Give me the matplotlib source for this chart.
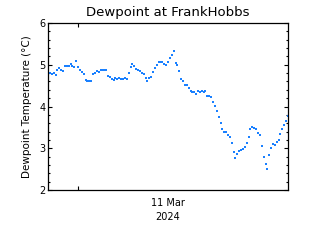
import datetime as dt
import matplotlib
matplotlib.use("Agg")
import matplotlib.pyplot as plt
import matplotlib.dates as mdates
from matplotlib.ticker import AutoMinorLocator, FixedLocator, NullFormatter

# dewpoint readings, every 15 min from 10 Mar 2024 20:00
start_time = dt.datetime(2024, 3, 10, 20, 0)
step_minutes = 15
dewpoint = [
    4.81, 4.81, 4.78, 4.81, 4.76, 4.88, 4.92, 4.88, 4.84, 4.98,
    4.98, 4.98, 5.02, 4.98, 4.95, 5.08, 4.95, 4.88, 4.83, 4.79,
    4.64, 4.62, 4.62, 4.62, 4.78, 4.80, 4.86, 4.83, 4.88, 4.88,
    4.88, 4.88, 4.73, 4.71, 4.67, 4.64, 4.69, 4.67, 4.69, 4.67,
    4.67, 4.69, 4.67, 4.81, 4.95, 5.02, 4.98, 4.90, 4.88, 4.85,
    4.80, 4.78, 4.69, 4.60, 4.69, 4.71, 4.83, 4.93, 5.00, 5.07,
    5.07, 5.07, 5.02, 5.00, 5.07, 5.17, 5.24, 5.33, 5.05, 5.00,
    4.86, 4.67, 4.60, 4.52, 4.52, 4.45, 4.36, 4.34, 4.34, 4.31,
    4.36, 4.34, 4.38, 4.34, 4.36, 4.24, 4.24, 4.22, 4.10, 4.02,
    3.90, 3.76, 3.60, 3.45, 3.40, 3.38, 3.31, 3.26, 3.12, 2.90,
    2.76, 2.86, 2.93, 2.95, 2.98, 3.02, 3.12, 3.26, 3.45, 3.50,
    3.48, 3.45, 3.36, 3.31, 3.05, 2.80, 2.62, 2.50, 2.85, 3.00,
    3.10, 3.07, 3.14, 3.20, 3.33, 3.45, 3.55, 3.65, 3.78,
]
times = [start_time + dt.timedelta(minutes=step_minutes * i) for i in range(len(dewpoint))]

x_start = dt.datetime(2024, 3, 10, 20, 0)
x_end = dt.datetime(2024, 3, 12, 4, 0)
day_tick = dt.datetime(2024, 3, 11, 0, 0)
day_label_pos = dt.datetime(2024, 3, 11, 12, 0)
day_label = "11 Mar\n2024"

fig = plt.figure(figsize=(3.2, 2.4), dpi=100)
ax = fig.add_axes([0.15, 0.2083, 0.75, 0.6958])

ax.plot(times, dewpoint, linestyle="none", marker="s", markersize=2.1,
        markeredgewidth=0, color="#1A80FF")

ax.set_xlim(x_start, x_end)
ax.set_ylim(2, 6)

ax.xaxis.set_major_locator(FixedLocator([mdates.date2num(day_tick)]))
ax.xaxis.set_major_formatter(NullFormatter())
ax.xaxis.set_minor_locator(FixedLocator([mdates.date2num(day_label_pos)]))
ax.xaxis.set_minor_formatter(lambda v, p: day_label)
ax.set_yticks([2, 3, 4, 5, 6])
ax.yaxis.set_minor_locator(AutoMinorLocator(5))

ax.tick_params(which="both", direction="in", top=True, right=True,
               labelsize=7, width=0.8, pad=2)
ax.tick_params(which="major", length=3)
ax.tick_params(axis="y", which="minor", length=1.6)
ax.tick_params(axis="x", which="minor", length=0, pad=6)
for lbl in ax.xaxis.get_minorticklabels():
    lbl.set_linespacing(1.5)
for s in ax.spines.values():
    s.set_linewidth(0.9)

ax.set_title("Dewpoint at FrankHobbs", fontsize=9.5, pad=5)
ax.set_ylabel("Dewpoint Temperature (\u00b0C)", fontsize=7.5, labelpad=5)

fig.savefig("out.png", dpi=100)
